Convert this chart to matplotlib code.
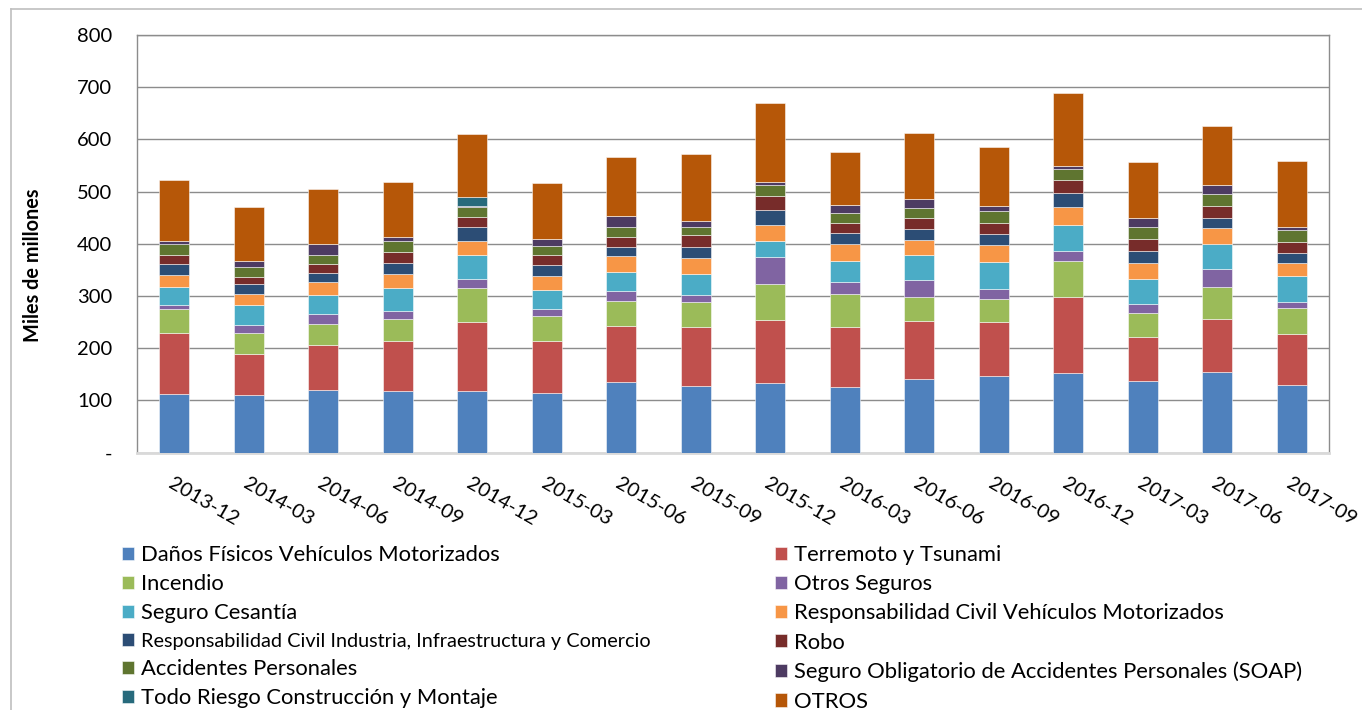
import matplotlib
matplotlib.use("Agg")
import matplotlib.pyplot as plt
from matplotlib.lines import Line2D
import numpy as np

plt.rcParams['font.family'] = ['Lato', 'DejaVu Sans']

periods = ["2013-12", "2014-03", "2014-06", "2014-09", "2014-12", "2015-03", "2015-06", "2015-09",
           "2015-12", "2016-03", "2016-06", "2016-09", "2016-12", "2017-03", "2017-06", "2017-09"]

danos_fisicos = [113, 111, 121, 118, 118, 114, 135, 128, 134, 125, 141, 146, 152, 138, 155, 129]
terremoto = [117, 78, 85, 96, 132, 100, 107, 112, 120, 116, 111, 104, 146, 84, 101, 99]
incendio = [46, 40, 41, 43, 66, 48, 49, 48, 69, 62, 47, 45, 69, 46, 61, 49]
otros_seguros = [7, 16, 19, 15, 17, 14, 18, 14, 51, 24, 31, 19, 20, 17, 34, 12]
seguro_cesantia = [34, 38, 36, 43, 46, 36, 38, 40, 31, 41, 48, 51, 50, 48, 48, 49]
rc_vehiculos = [23, 21, 24, 27, 27, 27, 29, 30, 31, 32, 29, 33, 34, 31, 31, 25]
rc_industria = [22, 20, 18, 22, 27, 20, 18, 22, 29, 20, 22, 20, 27, 22, 20, 20]
robo = [17, 13, 17, 20, 19, 19, 20, 22, 26, 20, 20, 21, 24, 24, 22, 20]
accidentes = [20, 18, 17, 21, 19, 17, 19, 17, 21, 19, 20, 24, 22, 23, 24, 24]
soap = [6, 13, 22, 9, 1, 14, 20, 10, 6, 15, 17, 9, 5, 17, 17, 5]
todo_riesgo = [0, 0, 0, 0, 17, 0, 0, 0, 0, 0, 0, 0, 0, 0, 0, 0]
otros = [117, 103, 106, 104, 122, 108, 113, 129, 151, 102, 126, 113, 139, 106, 113, 127]

series_names = ["Daños Físicos Vehículos Motorizados", "Terremoto y Tsunami", "Incendio", "Otros Seguros",
                "Seguro Cesantía", "Responsabilidad Civil Vehículos Motorizados",
                "Responsabilidad Civil Industria, Infraestructura y Comercio", "Robo",
                "Accidentes Personales", "Seguro Obligatorio de Accidentes Personales (SOAP)",
                "Todo Riesgo Construcción y Montaje", "OTROS"]
series_values = [danos_fisicos, terremoto, incendio, otros_seguros, seguro_cesantia, rc_vehiculos,
                 rc_industria, robo, accidentes, soap, todo_riesgo, otros]
colors = ["#4F81BD", "#C0504D", "#9BBB59", "#8064A2", "#4BACC6", "#F79646",
          "#2C4D75", "#772C2A", "#5F7530", "#4D3B62", "#276A7C", "#B65708"]

W, H = 1362, 710
fig = plt.figure(figsize=(W / 100, H / 100), dpi=100)
ax = fig.add_axes([137 / W, 1 - 452.7 / H, (1329 - 137) / W, (452.7 - 35) / H])

x = np.arange(len(periods))
bottom = np.zeros(len(periods))
handles = []
for name, vals, c in zip(series_names, series_values, colors):
    v = np.array(vals, dtype=float)
    b = ax.bar(x, v, 0.4, bottom=bottom, color=c, edgecolor=(1, 1, 1, 0.6), linewidth=0.6,
               label=name, zorder=3)
    handles.append(b)
    bottom += v

ax.set_xlim(-0.5, len(periods) - 0.5)
ax.set_ylim(0, 800)
ax.set_yticks(np.arange(0, 801, 100))
ax.set_yticklabels(["-" if t == 0 else str(t) for t in range(0, 801, 100)], fontsize=14.5)
ax.yaxis.grid(True, color="#8c8c8c", linewidth=1.0, zorder=0)
ax.set_axisbelow(True)
ax.tick_params(axis="y", length=0, pad=18)

ax.set_xticks(x)
ax.set_xticklabels(periods, rotation=-30, ha="left", va="top", rotation_mode="anchor", fontsize=14.5)
ax.tick_params(axis="x", length=0, pad=16)

for s in ["left", "right", "top"]:
    ax.spines[s].set_color("#8c8c8c")
    ax.spines[s].set_linewidth(1.0)
ax.spines["bottom"].set_color("#d9d9d9")
ax.spines["bottom"].set_linewidth(2.0)

ax.set_ylabel("Miles de millones", fontsize=14.3, fontweight="bold")
ax.yaxis.set_label_coords(-0.0789, 0.449)

# outer border lines
fig.add_artist(Line2D([11 / W, 11 / W], [0, 1 - 9 / H], transform=fig.transFigure, color="#bfbfbf", lw=1.2))
fig.add_artist(Line2D([11 / W, 1], [1 - 9 / H, 1 - 9 / H], transform=fig.transFigure, color="#bfbfbf", lw=1.2))

left_idx = [0, 2, 4, 6, 8, 10]
right_idx = [1, 3, 5, 7, 9, 11]
common = dict(loc="upper left", frameon=False, fontsize=15.8, borderpad=0, borderaxespad=0,
              handlelength=0.55, handleheight=0.55, handletextpad=0.3, labelspacing=0.42)
leg1 = fig.legend([handles[i] for i in left_idx], [series_names[i] for i in left_idx],
                  bbox_to_anchor=(122 / W, 1 - 545 / H), **common)
leg2 = fig.legend([handles[i] for i in right_idx], [series_names[i] for i in right_idx],
                  bbox_to_anchor=(775 / W, 1 - 545 / H), **common)
leg1.get_texts()[3].set_fontsize(14.3)

fig.savefig("out.png", dpi=100, facecolor="white")
